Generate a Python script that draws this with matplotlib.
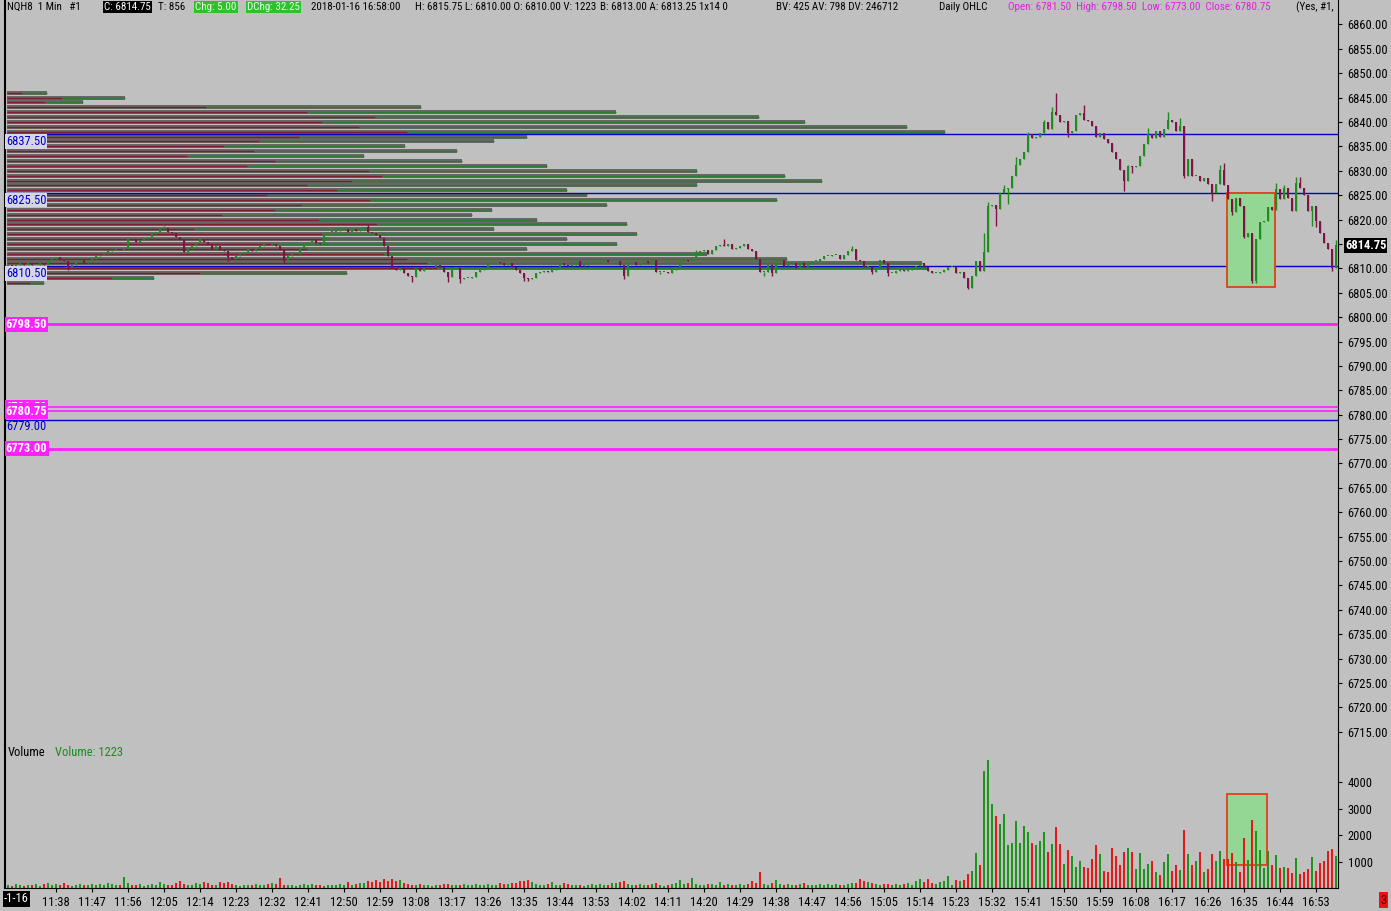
import numpy as np
import matplotlib.pyplot as plt
from matplotlib import font_manager
from matplotlib.patches import Rectangle
from matplotlib.ticker import FormatStrFormatter

# the chart uses a narrow UI font; pick a condensed face if one is installed
_fonts = font_manager.fontManager.ttflist
_names = {f.name for f in _fonts}
NARROW = None
for cand in ['Liberation Sans Narrow', 'DejaVu Sans Condensed', 'Roboto Condensed',
             'Open Sans Condensed', 'Noto Sans Condensed']:
    if cand in _names:
        NARROW = cand
        break
if NARROW is not None:
    plt.rcParams['font.family'] = [NARROW, 'DejaVu Sans']
    FS = 9
else:
    cond = [f for f in _fonts if f.name == 'DejaVu Sans' and 'cond' in str(f.stretch)]
    plt.rcParams['font.family'] = ['DejaVu Sans']
    if cond:
        plt.rcParams['font.stretch'] = 'condensed'
        FS = 8.5
    else:
        FS = 7.2
HFS = FS * 0.88   # header line is a bit tighter

BG = '#c0c0c0'
UP = '#1f8c1f'
DOWN = '#7e1442'
VOL_UP = '#1a961a'
VOL_DOWN = '#e41a1a'
BLUE = '#0000c8'
MAGENTA = '#ff20ff'

# 1-minute bars, first bar at 11:26, last at 16:58
FIRST_BAR = 11 * 60 + 26
FIRST_OPEN = 6810.5

closes = [
    6810.75, 6810.5, 6810.75, 6811.0, 6810.75, 6811.0, 6810.75, 6810.75, 6811.0, 6810.75,
    6811.75, 6812.0, 6812.25, 6811.75, 6811.5, 6810.25, 6810.75, 6811.25, 6811.75, 6811.0,
    6811.5, 6812.0, 6812.5, 6812.75, 6813.0, 6813.5, 6813.75, 6814.0, 6813.75, 6814.0,
    6816.0, 6815.75, 6815.5, 6815.75, 6816.0, 6816.5, 6817.0, 6817.5, 6818.0, 6818.25,
    6817.5, 6817.25, 6816.5, 6816.0, 6813.25, 6814.0, 6814.5, 6815.5, 6816.0, 6815.5,
    6815.0, 6814.0, 6814.5, 6813.75, 6813.5, 6812.25, 6812.0, 6812.5, 6813.0, 6813.25,
    6814.0, 6813.5, 6814.0, 6814.5, 6815.0, 6814.75, 6815.0, 6814.5, 6813.75, 6811.5,
    6812.5, 6813.0, 6813.0, 6814.25, 6814.75, 6815.5, 6815.75, 6815.25, 6815.0, 6816.75,
    6817.5, 6817.5, 6817.75, 6818.0, 6818.0, 6817.5, 6818.0, 6817.75, 6818.25, 6818.5,
    6817.5, 6817.25, 6816.75, 6816.25, 6814.5, 6812.5, 6810.0, 6809.75, 6810.0, 6809.0,
    6808.5, 6808.25, 6810.0, 6809.5, 6810.0, 6810.0, 6810.25, 6810.75, 6810.25, 6809.25,
    6808.25, 6810.0, 6810.0, 6807.75, 6808.0, 6808.0, 6808.25, 6809.25, 6809.75, 6810.0,
    6811.0, 6811.0, 6811.25, 6811.0, 6810.75, 6811.0, 6810.25, 6809.75, 6809.0, 6808.0,
    6807.75, 6808.0, 6809.0, 6809.25, 6809.5, 6809.25, 6809.75, 6810.25, 6811.0, 6810.75,
    6810.5, 6810.75, 6811.5, 6810.5, 6810.75, 6811.0, 6811.0, 6811.25, 6811.5, 6811.75,
    6811.25, 6811.25, 6811.5, 6810.75, 6808.5, 6811.0, 6811.25, 6810.75, 6811.0, 6811.5,
    6811.0, 6811.75, 6809.25, 6809.25, 6809.25, 6809.0, 6809.75, 6810.25, 6811.5, 6811.75,
    6811.5, 6812.25, 6812.75, 6813.5, 6813.75, 6813.0, 6813.75, 6814.5, 6814.75, 6814.5,
    6815.0, 6814.0, 6814.25, 6814.5, 6815.0, 6814.0, 6813.5, 6812.0, 6809.25, 6809.25,
    6810.75, 6809.0, 6811.5, 6811.75, 6810.5, 6811.0, 6811.0, 6810.0, 6811.0, 6810.25,
    6811.0, 6811.5, 6811.5, 6812.0, 6812.5, 6812.5, 6812.75, 6812.75, 6812.0, 6812.75,
    6813.5, 6814.0, 6811.75, 6811.5, 6810.25, 6810.25, 6809.25, 6810.25, 6811.75, 6811.0,
    6809.0, 6809.0, 6809.5, 6809.75, 6809.5, 6809.75, 6810.0, 6810.5, 6811.0, 6810.25,
    6809.5, 6809.0, 6809.0, 6809.25, 6809.75, 6810.25, 6810.25, 6809.0, 6809.25, 6808.0,
    6806.0, 6808.5, 6811.5, 6809.5, 6813.25, 6822.75, 6823.0, 6822.25, 6825.5, 6826.25,
    6826.5, 6829.0, 6831.25, 6832.5, 6833.75, 6837.5, 6836.75, 6837.0, 6837.75, 6840.0,
    6838.5, 6842.0, 6841.5, 6840.0, 6840.25, 6837.75, 6838.25, 6841.5, 6841.75, 6840.5,
    6840.25, 6839.25, 6837.0, 6837.75, 6836.5, 6835.75, 6833.75, 6832.5, 6830.25, 6828.0,
    6831.0, 6830.75, 6831.0, 6833.0, 6835.5, 6837.5, 6836.75, 6838.25, 6837.0, 6838.5,
    6840.5, 6840.0, 6838.25, 6839.25, 6829.0, 6832.5, 6829.0, 6829.0, 6828.0, 6828.5,
    6827.25, 6825.5, 6827.25, 6830.25, 6827.0, 6824.25, 6821.5, 6824.5, 6822.75, 6816.5,
    6817.25, 6807.5, 6816.0, 6819.5, 6819.75, 6822.5, 6822.0, 6826.25, 6824.25, 6826.5,
    6824.5, 6821.75, 6827.5, 6826.5, 6825.0, 6821.75, 6822.75, 6819.75, 6817.25, 6815.25,
    6814.0, 6810.0, 6814.75,
]

# wick extremes that stick out of the bodies (bar index -> price)
wick_highs = {39: 6818.75, 90: 6819.0, 96: 6811.0, 172: 6813.75, 179: 6816.0, 211: 6814.5,
              244: 6817.25, 245: 6823.5, 249: 6827.0, 252: 6832.75, 255: 6838.0, 259: 6840.5,
              261: 6843.0, 262: 6846.0, 269: 6843.5, 280: 6831.25, 285: 6838.75, 290: 6842.0,
              293: 6840.75, 303: 6831.25, 304: 6831.5, 317: 6827.5, 319: 6827.0, 322: 6828.75,
              323: 6828.75, 332: 6815.75}
wick_lows = {15: 6809.75, 55: 6811.5, 69: 6811.0, 101: 6807.25, 110: 6807.25, 113: 6807.0,
             129: 6807.5, 130: 6807.5, 154: 6807.75, 163: 6808.75, 189: 6808.5, 191: 6808.5,
             216: 6808.75, 220: 6808.5, 240: 6805.75, 241: 6806.0, 247: 6818.75, 250: 6823.25,
             265: 6837.0, 279: 6825.75, 281: 6829.5, 294: 6828.5, 301: 6823.75, 306: 6821.0,
             309: 6816.25, 311: 6807.0, 312: 6807.0, 326: 6818.75, 327: 6818.5, 331: 6809.5}

volumes = [
    120, 90, 150, 110, 80, 130, 100, 160, 90, 140,
    180, 120, 150, 100, 170, 130, 90, 120, 150, 110,
    130, 160, 100, 140, 120, 180, 150, 110, 130, 420,
    200, 120, 100, 150, 90, 130, 160, 110, 220, 140,
    120, 100, 170, 260, 150, 130, 110, 180, 140, 230,
    200, 120, 100, 220, 190, 210, 150, 120, 90, 110,
    130, 100, 150, 120, 110, 140, 170, 150, 380, 110,
    100, 130, 90, 120, 150, 110, 140, 100, 120, 90,
    130, 110, 100, 140, 120, 220, 130, 160, 200, 180,
    260, 210, 300, 240, 340, 280, 330, 250, 300, 200,
    150, 120, 100, 140, 110, 130, 90, 120, 100, 140,
    160, 110, 130, 100, 150, 120, 110, 140, 100, 130,
    150, 120, 110, 170, 140, 150, 180, 200, 250, 280,
    320, 230, 150, 120, 100, 150, 230, 130, 110, 200,
    140, 100, 120, 110, 90, 130, 150, 120, 160, 110,
    130, 200, 180, 210, 260, 140, 120, 110, 150, 130,
    120, 140, 180, 110, 90, 120, 140, 200, 300, 160,
    200, 380, 150, 130, 120, 160, 140, 110, 230, 120,
    150, 130, 100, 140, 120, 160, 250, 200, 620, 160,
    130, 180, 300, 160, 120, 140, 110, 130, 150, 200,
    120, 100, 130, 150, 110, 140, 120, 160, 130, 110,
    150, 200, 180, 350, 250, 220, 200, 150, 120, 140,
    160, 130, 150, 110, 140, 170, 120, 250, 330, 220,
    350, 180, 150, 240, 272, 438, 130, 290, 252, 315,
    540, 650, 1320, 880, 4427, 4843, 3180, 2730, 2425, 2800,
    1630, 1690, 2535, 1690, 2350, 2125, 1690, 1630, 1780, 2125,
    1367, 1665, 2290, 1665, 913, 1440, 1215, 800, 1025, 800,
    763, 1100, 1630, 1290, 650, 610, 1520, 1215, 880, 1367,
    1520, 1367, 725, 1340, 725, 913, 1025, 610, 500, 990,
    1290, 650, 850, 690, 2200, 1290, 880, 1025, 1367, 610,
    725, 1290, 1025, 1405, 1100, 1100, 1340, 990, 610, 1900,
    1065, 2575, 2160, 1440, 763, 1405, 880, 1250, 763, 800,
    763, 575, 1140, 540, 610, 725, 1180, 650, 950, 1025,
    1405, 1480, 1223,
]

# volume profile, one row per point
profile_levels = list(range(6846, 6806, -1))
profile_sell = [45, 165, 114, 597, 900, 1104, 945, 1056, 1200, 876,
                756, 651, 741, 540, 804, 720, 1086, 1125, 1035, 900,
                990, 780, 1089, 885, 804, 645, 936, 1110, 561, 945,
                945, 801, 900, 1131, 1200, 1260, 1290, 579, 315, 69]
profile_buy = [75, 189, 114, 645, 927, 1152, 1449, 1644, 1614, 684,
               705, 543, 609, 531, 561, 900, 984, 1209, 1410, 1170,
               690, 960, 1221, 915, 651, 750, 654, 750, 900, 945,
               735, 1029, 660, 969, 1140, 1485, 1470, 441, 126, 42]

blue_levels = [6837.5, 6825.5, 6810.5]
blue_labels = ['6837.50', '6825.50', '6810.50']
daily_levels = [6798.5, 6781.5, 6780.75, 6773.0]
daily_labels = ['6798.50', '6781.50', '6780.75', '6773.00']
daily_widths = [2.0, 1.2, 1.2, 2.0]
prev_level = 6779.0

time_labels = ['11:38', '11:47', '11:56', '12:05', '12:14', '12:23', '12:32', '12:41', '12:50',
               '12:59', '13:08', '13:17', '13:26', '13:35', '13:44', '13:53', '14:02', '14:11',
               '14:20', '14:29', '14:38', '14:47', '14:56', '15:05', '15:14', '15:23', '15:32',
               '15:41', '15:50', '15:59', '16:08', '16:17', '16:26', '16:35', '16:44', '16:53']
price_ticks = np.arange(6715, 6861, 5)
vol_ticks = [1000, 2000, 3000, 4000]

W, H = 1391, 911
fig = plt.figure(figsize=(W / 100, H / 100), dpi=100, facecolor=BG)
ax = fig.add_axes([5 / W, 1 - 745 / H, 1333 / W, 745 / H], facecolor=BG)
axv = fig.add_axes([5 / W, 1 - 888 / H, 1333 / W, 143 / H], facecolor='none', sharex=ax)

n = len(closes)
t = FIRST_BAR + np.arange(n)
c = np.array(closes)
o = np.array([FIRST_OPEN] + closes[:-1])
up = c >= o
hi = np.array([wick_highs.get(i, max(o[i], c[i])) for i in range(n)])
lo = np.array([wick_lows.get(i, min(o[i], c[i])) for i in range(n)])

# volume profile on the left
bar_per_contract = 1 / 12.0
pl = np.array(profile_levels, dtype=float)
ps = np.array(profile_sell) * bar_per_contract
pb = np.array(profile_buy) * bar_per_contract
x0 = FIRST_BAR - 0.3
ax.barh(pl, ps + pb, left=x0, height=0.82, color='#676767', zorder=1)
ax.hlines(pl, x0, x0 + ps, color='#7a1f2e', lw=1, zorder=1.5)
ax.hlines(pl, x0 + ps + 0.3, x0 + ps + pb, color='#2f7a30', lw=1, zorder=1.5)

# reference lines
for lv, lab in zip(blue_levels, blue_labels):
    ax.axhline(lv, color=BLUE, lw=1, zorder=2)
    ax.text(FIRST_BAR - 0.55, lv - 1.5, lab, color=BLUE, fontsize=FS, va='center', ha='left',
            zorder=6, bbox=dict(fc='#d6d6e6', ec='none', pad=0.6))
for lv, lab, lw in zip(daily_levels, daily_labels, daily_widths):
    ax.axhline(lv, color=MAGENTA, lw=lw, zorder=2)
    ax.text(FIRST_BAR - 0.55, lv, lab, color='white', fontsize=FS, fontweight='bold',
            va='center', ha='left', zorder=6, bbox=dict(fc=MAGENTA, ec='none', pad=0.8))
ax.axhline(prev_level, color=BLUE, lw=1, zorder=2)
ax.text(FIRST_BAR - 0.55, prev_level - 1.4, '6779.00', color=BLUE, fontsize=FS, va='center',
        ha='left', zorder=6)

# highlighted zone
ax.add_patch(Rectangle((FIRST_BAR + 304.75, 6806.25), 12.1, 19.25, fc='#94d694',
                       ec='#e0401c', lw=1.3, zorder=3))

# candles
body_lo = np.minimum(o, c)
body_h = np.maximum(np.abs(c - o), 0.2)
cols = np.where(up, UP, DOWN)
ax.vlines(t, lo, hi, colors=cols, lw=1, zorder=4)
ax.bar(t, body_h, bottom=body_lo, width=0.72, color=cols, linewidth=0, zorder=5)

ax.set_xlim(FIRST_BAR - 0.75, FIRST_BAR + 332.5)
ax.set_ylim(6712.3, 6865.0)
ax.yaxis.tick_right()
ax.set_yticks(price_ticks)
ax.yaxis.set_major_formatter(FormatStrFormatter('%.2f'))
ax.tick_params(axis='y', labelsize=FS, length=3, pad=4, colors='black')
ax.tick_params(axis='x', bottom=False, labelbottom=False)
for s in ['top', 'bottom']:
    ax.spines[s].set_visible(False)
ax.spines['left'].set_color('black')
ax.spines['left'].set_linewidth(1.5)
ax.spines['right'].set_color('black')

ax.annotate(f'{closes[-1]:.2f}', xy=(1, closes[-1]), xycoords=('axes fraction', 'data'),
            xytext=(5, 0), textcoords='offset points', va='center', ha='left', fontsize=FS,
            fontweight='bold', color='white', bbox=dict(fc='black', ec='none', pad=0.8),
            annotation_clip=False, zorder=10)

# volume pane
vcols = np.where(up, VOL_UP, VOL_DOWN)
axv.add_patch(Rectangle((FIRST_BAR + 304.75, 880), 10.0, 2670, fc='#94d694',
                        ec='#e0401c', lw=1.3, zorder=1))
axv.bar(t, volumes, width=0.65, color=vcols, linewidth=0, zorder=2)
axv.set_ylim(0, 5402)
axv.yaxis.tick_right()
axv.set_yticks(vol_ticks)
axv.set_yticklabels([str(v) for v in vol_ticks])
axv.tick_params(axis='y', labelsize=FS, length=3, pad=4)
tick_pos = [int(s[:2]) * 60 + int(s[3:]) for s in time_labels]
axv.set_xticks(tick_pos)
axv.set_xticklabels(time_labels)
axv.tick_params(axis='x', labelsize=FS, length=3, pad=3)
axv.spines['top'].set_visible(False)
for s in ['left', 'right', 'bottom']:
    axv.spines[s].set_color('black')
axv.spines['left'].set_linewidth(1.5)


def fx(px):
    return px / W


def fy(py):
    return 1 - py / H


fig.text(fx(8), fy(752), 'Volume', fontsize=FS, va='center')
fig.text(fx(55), fy(752), f'Volume: {volumes[-1]}', fontsize=FS, color='#1a8c1a', va='center')

hy = fy(7)
fig.text(fx(7), hy, 'NQH8  1 Min   #1', fontsize=HFS, va='center')
fig.text(fx(104), hy, 'C: 6814.75', fontsize=HFS, va='center', color='white',
         bbox=dict(fc='black', ec='none', pad=1.0))
fig.text(fx(158), hy, 'T: 856', fontsize=HFS, va='center')
fig.text(fx(195), hy, 'Chg: 5.00', fontsize=HFS, va='center', color='#eaffea',
         bbox=dict(fc='#2fc02f', ec='none', pad=1.0))
fig.text(fx(247), hy, 'DChg: 32.25', fontsize=HFS, va='center', color='#eaffea',
         bbox=dict(fc='#2fc02f', ec='none', pad=1.0))
fig.text(fx(311), hy, '2018-01-16 16:58:00', fontsize=HFS, va='center')
fig.text(fx(415), hy, 'H: 6815.75 L: 6810.00 O: 6810.00 V: 1223', fontsize=HFS, va='center')
fig.text(fx(600), hy, 'B: 6813.00 A: 6813.25 1x14 0', fontsize=HFS, va='center')
fig.text(fx(776), hy, 'BV: 425 AV: 798 DV: 246712', fontsize=HFS, va='center')
fig.text(fx(939), hy, 'Daily OHLC', fontsize=HFS, va='center')
fig.text(fx(1008), hy, 'Open: 6781.50  High: 6798.50  Low: 6773.00  Close: 6780.75',
         fontsize=HFS, va='center', color='#e020e0')
fig.text(fx(1296), hy, '(Yes, #1,', fontsize=HFS, va='center')

fig.text(fx(4), fy(899), '-1-16', fontsize=FS, va='center', color='white',
         bbox=dict(fc='black', ec='none', pad=1.0))
fig.text(fx(1380), fy(900), '3', fontsize=FS, va='center', color='#3a0000',
         bbox=dict(fc='#ee1111', ec='none', pad=1.0))

fig.savefig('out.png', dpi=100, facecolor=BG)
